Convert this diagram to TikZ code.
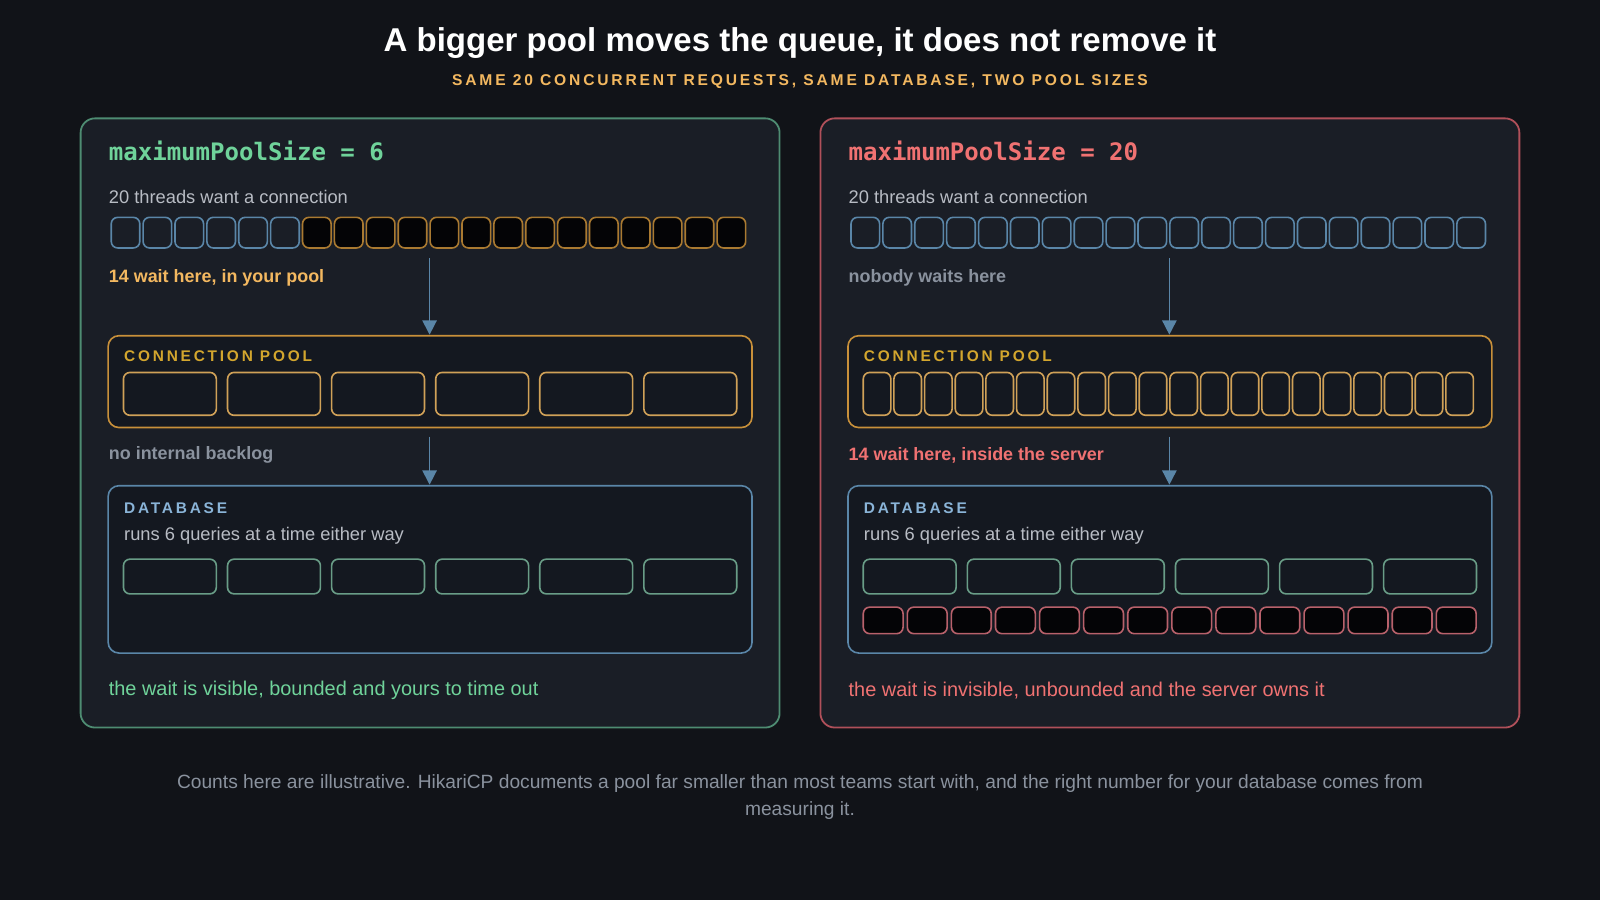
\documentclass[tikz,border=0pt]{standalone}
\usepackage{fontspec}
\setmainfont{Liberation Sans}
\setmonofont{DejaVu Sans Mono}
\newfontfamily\spacedfont[LetterSpace=18]{Liberation Sans}
\usetikzlibrary{arrows.meta}

\begin{document}
\begin{tikzpicture}[x=0.01cm, y=-0.01cm]
	\definecolor{cBack}{HTML}{111318}
	\definecolor{cPanel}{HTML}{1A1E26}
	\definecolor{cInner}{HTML}{141820}
	\definecolor{cGreen}{HTML}{6FD39A}
	\definecolor{cGreenLine}{HTML}{4E8C72}
	\definecolor{cRed}{HTML}{F07272}
	\definecolor{cRedLine}{HTML}{B0505A}
	\definecolor{cOrange}{HTML}{F3B860}
	\definecolor{cOrangeLine}{HTML}{C8903A}
	\definecolor{cBlue}{HTML}{5A86A8}
	\definecolor{cBlueText}{HTML}{8AB4D8}
	\definecolor{cText}{HTML}{B8BCC4}
	\definecolor{cMuted}{HTML}{8A929E}

	\tikzset{
		panel/.style={rounded corners=4pt, line width=0.5, fill=cPanel},
		inner/.style={rounded corners=3pt, line width=0.45, fill=cInner},
		slot/.style={rounded corners=1.8pt, line width=0.45},
		flow/.style={draw=cBlue, line width=0.45, -{Triangle[width=4pt, length=4pt, fill=cBlue]}},
		lbl/.style={anchor=west, inner sep=0, font=\fontsize{5.1}{6}\selectfont},
		bold/.style={anchor=west, inner sep=0, font=\fontsize{5}{6}\selectfont\bfseries},
		boxcap/.style={anchor=west, inner sep=0, font=\fontsize{4.3}{5}\spacedfont\bfseries},
	}

	\fill[cBack] (0,0) rectangle (1568,882);

	% title
	\node[white, font=\fontsize{9.2}{10}\selectfont\bfseries] (title) at (784,42) {A bigger pool moves the queue, it does not remove it};
	\node[cOrange, font=\fontsize{4.35}{5}\spacedfont\bfseries] (subtitle) at (784,80) {SAME 20 CONCURRENT REQUESTS, SAME DATABASE, TWO POOL SIZES};

	% panels
	\draw[panel, draw=cGreenLine] (79,116) rectangle (764,713);
	\draw[panel, draw=cRedLine] (804,116) rectangle (1489,713);

	\foreach \px/\col/\n in {0/cGreen/6, 725/cRed/20} {
		\begin{scope}[xshift=\px*0.01cm]
			\node[lbl, text=\col, font=\fontsize{6.7}{8}\ttfamily\bfseries] (head) at (106,148) {maximumPoolSize = \n};
			\node[lbl, text=cText] (threads) at (106,193) {20 threads want a connection};
			\coordinate (a1) at (421,253);
			\coordinate (a2) at (421,428);
			\draw[flow] (a1) -- (421,328);
			\draw[flow] (a2) -- (421,475);
			\draw[inner, draw=cOrangeLine] (106,329) rectangle (737,419);
			\node[boxcap, text=cOrangeLine!80!yellow] (pool) at (121,349) {CONNECTION POOL};
			\draw[inner, draw=cBlue] (106,476) rectangle (737,640);
			\node[boxcap, text=cBlueText] (db) at (121,498) {DATABASE};
			\node[lbl, text=cText] (runs) at (121,525) {runs 6 queries at a time either way};
			\foreach \i in {0,...,5}
				\draw[slot, draw=cGreenLine!85!white, fill=cInner] (121+\i*102,548) rectangle ++(91,34);
		\end{scope}
	}

	% left: threads
	\foreach \i in {0,...,19} {
		\ifnum\i<6
			\draw[slot, draw=cBlue, fill=cPanel] (109+\i*31.25,213) rectangle ++(28,30);
		\else
			\draw[slot, draw=cOrangeLine!85!black, fill=black!85!cPanel] (109+\i*31.25,213) rectangle ++(28,30);
		\fi
	}
	\foreach \i in {0,...,5}
		\draw[slot, draw=cOrangeLine!85!white, fill=cInner] (121+\i*102,365) rectangle ++(91,42);
	\node[bold, text=cOrange] (waitL) at (106,272) {14 wait here, in your pool};
	\node[bold, text=cMuted] (backlog) at (106,446) {no internal backlog};
	\node[lbl, text=cGreen, font=\fontsize{5.55}{6}\selectfont] (endL) at (106,677) {the wait is visible, bounded and yours to time out};

	% right: threads
	\foreach \i in {0,...,19}
		\draw[slot, draw=cBlue, fill=cPanel] (834+\i*31.25,213) rectangle ++(28,30);
	\foreach \i in {0,...,19}
		\draw[slot, draw=cOrangeLine!85!white, fill=cInner] (846+\i*30.05,365) rectangle ++(27,42);
	\foreach \i in {0,...,13}
		\draw[slot, draw=cRedLine!90!white, fill=black!85!cPanel] (846+\i*43.2,595) rectangle ++(39,26);
	\node[bold, text=cMuted] (nobody) at (831,272) {nobody waits here};
	\node[bold, text=cRed] (waitR) at (831,446) {14 wait here, inside the server};
	\node[lbl, text=cRed, font=\fontsize{5.55}{6}\selectfont] (endR) at (831,677) {the wait is invisible, unbounded and the server owns it};

	% footnote
	\node[text=cMuted, align=center, font=\fontsize{5.35}{7.7}\selectfont] (note) at (784,781) {Counts here are illustrative. HikariCP documents a pool far smaller than most teams start with, and the right number for your database comes from\\measuring it.};
\end{tikzpicture}
\end{document}
